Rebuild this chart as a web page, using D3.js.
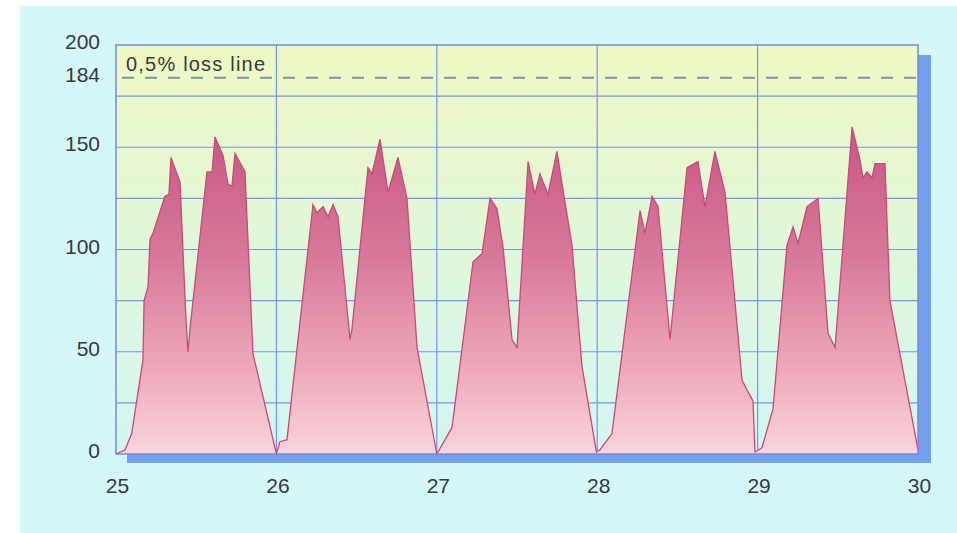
<!DOCTYPE html>
<html>
<head>
<meta charset="utf-8">
<script src="https://cdn.jsdelivr.net/npm/d3@7"></script>
<style>
  html, body { margin: 0; padding: 0; background: #ffffff; }
  svg { display: block; }
  text { font-family: "Liberation Sans", Arial, Helvetica, sans-serif; fill: #363a3c; }
</style>
</head>
<body>
<svg id="chart" width="957" height="533"></svg>
<script>
// ---- data ----
const xTickValues = [25, 26, 27, 28, 29, 30];
const xTickLabels = ["25", "26", "27", "28", "29", "30"];
const yTickValues = [0, 50, 100, 150, 184, 200];
const yTickLabels = ["0", "50", "100", "150", "184", "200"];
const yGridValues = [25, 50, 75, 100, 125, 150, 175];
const lossLineValue = 184;
const lossLineLabel = "0,5% loss line";

// time (day of month, fractional) and load values
const times = [
  25.00, 25.056, 25.098, 25.168, 25.175, 25.200, 25.212, 25.231, 25.305, 25.330, 25.343, 25.399, 25.436, 25.449, 25.461,
  25.567, 25.599, 25.617, 25.667, 25.698, 25.723, 25.742, 25.804, 25.854, 26.00,
  26.022, 26.066, 26.228, 26.253, 26.291, 26.322, 26.353, 26.384, 26.459, 26.471, 26.571, 26.596, 26.646, 26.696, 26.758,
  26.814, 26.877, 27.00,
  27.095, 27.226, 27.282, 27.332, 27.375, 27.413, 27.469, 27.500, 27.569, 27.612, 27.643, 27.693, 27.749, 27.787, 27.843,
  27.905, 27.995,
  28.017, 28.092, 28.267, 28.298, 28.342, 28.379, 28.454, 28.560, 28.628, 28.672, 28.734, 28.797, 28.903, 28.971, 28.984,
  29.027, 29.096, 29.183, 29.221, 29.252, 29.308, 29.377, 29.439, 29.483, 29.589, 29.638, 29.657, 29.682, 29.713, 29.732,
  29.794, 29.825, 30.00
];
const loads = [
  0, 2, 10, 46, 75, 82, 105, 108, 126, 127, 145, 133, 66, 50, 61,
  138, 138, 155, 146, 132, 131, 147, 138, 49, 0,
  6, 7, 122, 118, 121, 116, 122, 116, 56, 61, 140, 137, 154, 128, 145,
  125, 52, 0,
  13, 94, 98, 125, 120, 101, 56, 52, 143, 127, 137, 127, 148, 129, 102,
  43, 1,
  2, 10, 119, 108, 126, 121, 56, 140, 143, 121, 148, 128, 36, 26, 1,
  3, 22, 102, 111, 103, 121, 125, 59, 52, 160, 144, 135, 138, 135, 142,
  142, 75, 2
];
const series = times.map((t, i) => ({ t: t, v: loads[i] }));

// ---- layout ----
const svg = d3.select("#chart");
const plot = { left: 116, right: 918, top: 45, bottom: 454 };

const x = d3.scaleLinear().domain([25, 30]).range([plot.left, plot.right]);
const y = d3.scaleLinear().domain([0, 200]).range([plot.bottom, plot.top]);

const defs = svg.append("defs");
const bgGrad = defs.append("linearGradient").attr("id", "bgGrad")
  .attr("x1", 0).attr("y1", 0).attr("x2", 0).attr("y2", 1);
bgGrad.append("stop").attr("offset", "0%").attr("stop-color", "#eef8c2");
bgGrad.append("stop").attr("offset", "45%").attr("stop-color", "#e2f7d8");
bgGrad.append("stop").attr("offset", "100%").attr("stop-color", "#d3f6f3");

const areaGrad = defs.append("linearGradient").attr("id", "areaGrad")
  .attr("gradientUnits", "userSpaceOnUse")
  .attr("x1", 0).attr("x2", 0).attr("y1", y(160)).attr("y2", y(0));
areaGrad.append("stop").attr("offset", "0%").attr("stop-color", "#c75684");
areaGrad.append("stop").attr("offset", "40%").attr("stop-color", "#d8799a");
areaGrad.append("stop").attr("offset", "75%").attr("stop-color", "#eeaabb");
areaGrad.append("stop").attr("offset", "100%").attr("stop-color", "#f9d5dd");

// page background
svg.append("rect").attr("x", 20).attr("y", 6).attr("width", 957 - 20).attr("height", 533 - 6)
  .attr("fill", "#d5f7f8");

// shadow
svg.append("rect")
  .attr("x", plot.left + 11).attr("y", plot.top + 10)
  .attr("width", plot.right - plot.left + 2).attr("height", plot.bottom - plot.top - 1)
  .attr("fill", "#74a0ec");

// plot background
svg.append("rect")
  .attr("x", plot.left).attr("y", plot.top)
  .attr("width", plot.right - plot.left).attr("height", plot.bottom - plot.top)
  .attr("fill", "url(#bgGrad)");

// grid
const grid = svg.append("g").attr("stroke", "#7394f0").attr("stroke-width", 1.2);
grid.selectAll("line.h").data(yGridValues).join("line")
  .attr("x1", plot.left).attr("x2", plot.right)
  .attr("y1", d => y(d)).attr("y2", d => y(d));
grid.selectAll("line.v").data(xTickValues.slice(1, -1)).join("line")
  .attr("x1", d => x(d)).attr("x2", d => x(d))
  .attr("y1", plot.top).attr("y2", plot.bottom);

// loss line
svg.append("line")
  .attr("x1", plot.left).attr("x2", plot.right)
  .attr("y1", y(lossLineValue)).attr("y2", y(lossLineValue))
  .attr("stroke", "#8490b0").attr("stroke-width", 2)
  .attr("stroke-dasharray", "12,11").attr("stroke-dashoffset", -6);

// area
const area = d3.area().x(d => x(d.t)).y0(y(0)).y1(d => y(d.v));
const line = d3.line().x(d => x(d.t)).y(d => y(d.v));
svg.append("path").datum(series).attr("d", area).attr("fill", "url(#areaGrad)");
svg.append("path").datum(series).attr("d", line)
  .attr("fill", "none").attr("stroke", "#c94a78").attr("stroke-width", 1.3)
  .attr("stroke-linejoin", "miter");

// plot border
svg.append("rect")
  .attr("x", plot.left).attr("y", plot.top)
  .attr("width", plot.right - plot.left).attr("height", plot.bottom - plot.top)
  .attr("fill", "none").attr("stroke", "#7b86dc").attr("stroke-width", 1.5);

// axes (labels only, via d3 axes)
const yAxis = d3.axisLeft(y).tickValues(yTickValues)
  .tickFormat((d, i) => yTickLabels[i]).tickSize(0).tickPadding(16);
const yG = svg.append("g").attr("transform", `translate(${plot.left},-3)`).call(yAxis);
yG.select(".domain").remove();
yG.selectAll("text").style("font-size", "21px").attr("fill", "#33383a")
  .style("font-family", "'Liberation Sans', Arial, sans-serif");

const xAxis = d3.axisBottom(x).tickValues(xTickValues)
  .tickFormat((d, i) => xTickLabels[i]).tickSize(0).tickPadding(24);
const xG = svg.append("g").attr("transform", `translate(1,${plot.bottom})`).call(xAxis);
xG.select(".domain").remove();
xG.selectAll("text").style("font-size", "21px").attr("fill", "#33383a")
  .style("font-family", "'Liberation Sans', Arial, sans-serif");

// loss line label
svg.append("text")
  .attr("x", x(25) + 10).attr("y", y(lossLineValue) - 7)
  .style("font-size", "20px").style("letter-spacing", "1.2px")
  .text(lossLineLabel);
</script>
</body>
</html>
